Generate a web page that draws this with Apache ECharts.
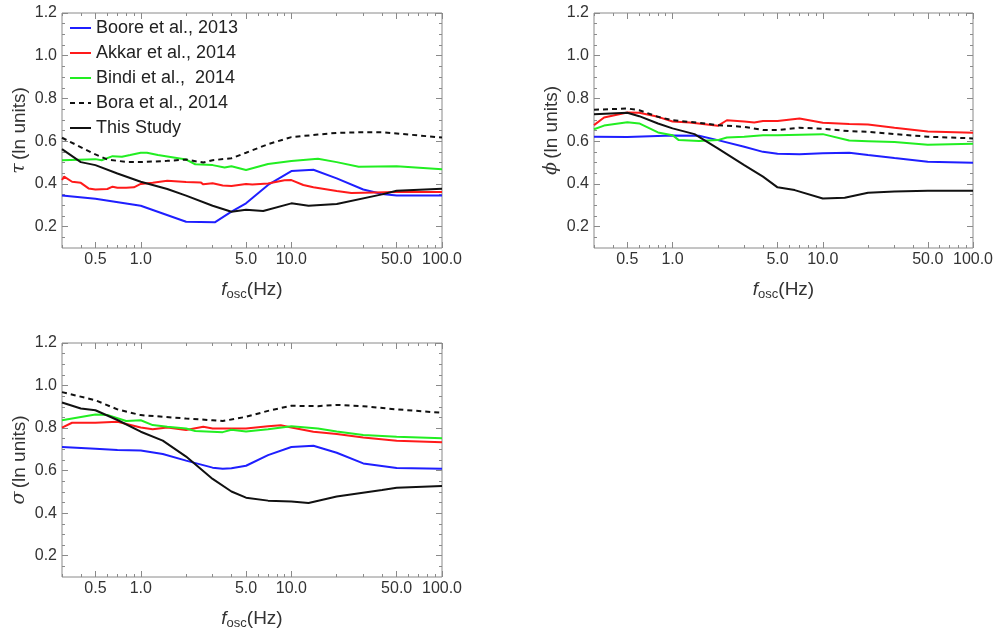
<!DOCTYPE html>
<html><head><meta charset="utf-8">
<script src="https://cdn.jsdelivr.net/npm/echarts@6/dist/echarts.min.js"></script>
<style>html,body{margin:0;padding:0;background:#fff}#c{width:999px;height:634px}</style>
</head><body><div id="c"></div>
<script>
// ---- data (frequency in Hz, values in ln units) ----
const seriesNames = ["Boore et al., 2013", "Akkar et al., 2014", "Bindi et al.,  2014", "Bora et al., 2014", "This Study"];
const xTickLabels = [0.5, 1, 5, 10, 50, 100];
const xMinorTicks = [0.3,0.4,0.6,0.7,0.8,0.9,2,3,4,6,7,8,9,20,30,40,60,70,80,90];
const yTickLabels = [0.2, 0.4, 0.6, 0.8, 1.0, 1.2];

// tau panel
const tauBooreF = [0.3,0.5,1.0,2.0,3.1,4,5,7,10,14,20,30,40,50,100];
const tauBoore  = [0.346,0.33,0.298,0.223,0.22,0.27,0.309,0.395,0.46,0.466,0.426,0.374,0.353,0.346,0.346];
const tauAkkarF = [0.3,0.31,0.35,0.4,0.45,0.5,0.6,0.65,0.7,0.8,0.9,1.0,1.2,1.5,2,2.5,2.6,3,3.5,4,5,5.5,7,9,10,12,14,20,25,30,50,100];
const tauAkkar  = [0.418,0.434,0.41,0.405,0.379,0.374,0.376,0.387,0.382,0.382,0.384,0.4,0.405,0.415,0.409,0.407,0.398,0.403,0.393,0.39,0.4,0.397,0.402,0.417,0.418,0.395,0.384,0.367,0.357,0.359,0.362,0.362];
const tauBindiF = [0.3,0.5,0.55,0.65,0.75,0.85,1.0,1.1,1.3,2.0,2.3,3,3.6,4,5,7,10,15,20,28,50,100];
const tauBindi  = [0.511,0.516,0.511,0.53,0.527,0.535,0.546,0.546,0.535,0.514,0.492,0.488,0.477,0.483,0.465,0.493,0.507,0.518,0.502,0.48,0.483,0.469];
const tauBoraF  = [0.3,0.5,0.6,0.8,1.0,1.5,2.0,2.6,3,4,5,7,10,15,20,30,40,50,100];
const tauBora   = [0.616,0.538,0.514,0.503,0.502,0.508,0.514,0.5,0.511,0.52,0.546,0.586,0.619,0.631,0.639,0.642,0.642,0.636,0.617];
const tauThisF  = [0.3,0.4,0.5,0.7,1.0,1.5,2.0,3,4,5,6.5,10,13,20,40,50,100];
const tauThis   = [0.563,0.502,0.488,0.449,0.41,0.376,0.345,0.298,0.27,0.279,0.273,0.309,0.298,0.306,0.351,0.368,0.377];

// phi panel
const phiBooreF = [0.3,0.5,1.0,1.5,2,3,4,5,7,10,15,20,30,50,100];
const phiBoore  = [0.621,0.62,0.627,0.625,0.605,0.574,0.55,0.541,0.539,0.543,0.546,0.535,0.521,0.504,0.499];
const phiAkkarF = [0.3,0.35,0.5,0.6,0.8,1.0,1.3,2,2.3,3,3.5,4,5,7,10,15,20,30,50,100];
const phiAkkar  = [0.675,0.711,0.734,0.733,0.714,0.692,0.687,0.672,0.698,0.692,0.687,0.694,0.694,0.706,0.686,0.68,0.678,0.663,0.645,0.639];
const phiBindiF = [0.3,0.35,0.5,0.6,0.8,1.0,1.1,1.5,2,2.3,3,4,5,10,15,20,30,50,100];
const phiBindi  = [0.656,0.673,0.689,0.683,0.641,0.628,0.605,0.601,0.605,0.617,0.621,0.628,0.628,0.633,0.603,0.6,0.596,0.583,0.588];
const phiBoraF  = [0.3,0.5,0.6,0.8,1.0,1.5,2,3,4,5,7,10,15,20,30,50,100];
const phiBora   = [0.747,0.753,0.745,0.714,0.698,0.686,0.675,0.667,0.652,0.652,0.663,0.658,0.647,0.644,0.633,0.621,0.613];
const phiThisF  = [0.3,0.5,0.6,0.8,1.0,1.4,2,3,4,5,6.5,10,14,20,30,50,100];
const phiThis   = [0.726,0.733,0.717,0.683,0.66,0.633,0.566,0.488,0.434,0.384,0.371,0.332,0.335,0.359,0.364,0.368,0.368];

// sigma panel
const sigBooreF = [0.3,0.5,0.7,1.0,1.4,2,3,3.5,4,5,7,10,14,20,30,50,100];
const sigBoore  = [0.711,0.703,0.697,0.695,0.678,0.647,0.614,0.609,0.611,0.623,0.673,0.711,0.717,0.684,0.634,0.612,0.609];
const sigAkkarF = [0.3,0.35,0.5,0.7,1.0,1.2,1.5,2,2.6,3,4,5,7,8.5,10,14,20,30,50,100];
const sigAkkar  = [0.802,0.825,0.825,0.83,0.803,0.795,0.803,0.791,0.806,0.798,0.798,0.798,0.809,0.813,0.803,0.783,0.772,0.756,0.741,0.734];
const sigBindiF = [0.3,0.5,0.6,0.8,1.0,1.2,1.5,2,2.3,3.5,4,5,7,10,15,20,30,50,100];
const sigBindi  = [0.837,0.864,0.862,0.833,0.837,0.814,0.806,0.798,0.786,0.781,0.792,0.784,0.795,0.809,0.798,0.784,0.767,0.759,0.752];
const sigBoraF  = [0.3,0.5,0.7,1.0,2,3,3.5,5,7,10,15,20,30,50,100];
const sigBora   = [0.969,0.931,0.888,0.861,0.845,0.837,0.833,0.853,0.881,0.905,0.903,0.909,0.903,0.888,0.872];
const sigThisF  = [0.3,0.4,0.5,0.7,1.0,1.4,2,3,4,5,7,10,13,20,40,50,100];
const sigThis   = [0.92,0.892,0.884,0.838,0.783,0.741,0.666,0.561,0.502,0.473,0.459,0.455,0.448,0.478,0.509,0.52,0.528];

// ---- build ----
const L = Math.log10;
const colors = ['#1f1fff', '#ff1a1a', '#22ee22', '#111', '#111'];
const dashes = ['solid','solid','solid',[5,4],'solid'];
const grids = [
  {left:62, top:13, width:380, height:235},
  {left:594, top:13, width:379, height:235},
  {left:62, top:343, width:380, height:234}
];
const yNames = ['τ', 'ϕ', 'σ'];
const panels = [
  [[tauBooreF,tauBoore],[tauAkkarF,tauAkkar],[tauBindiF,tauBindi],[tauBoraF,tauBora],[tauThisF,tauThis]],
  [[phiBooreF,phiBoore],[phiAkkarF,phiAkkar],[phiBindiF,phiBindi],[phiBoraF,phiBora],[phiThisF,phiThis]],
  [[sigBooreF,sigBoore],[sigAkkarF,sigAkkar],[sigBindiF,sigBindi],[sigBoraF,sigBora],[sigThisF,sigThis]]
];
const txt = '#333', frame = '#8a8a8a';
const yMinor = [];
for (let v = 0.15; v < 1.2; v += 0.05) { const r = Math.round(v*100)/100; if (Math.round(r*100) % 20 !== 0) yMinor.push(r); }
const xAxis = [], yAxis = [], series = [];
const noLine = {show:false, onZero:false};
grids.forEach((g, gi) => {
  const xBase = {type:'value', gridIndex:gi, min:L(0.3), max:2, splitLine:{show:false}, axisLine:noLine};
  const yBase = {type:'value', gridIndex:gi, min:0.1, max:1.2, splitLine:{show:false}, axisLine:noLine};
  const xi = xAxis.length, yi = yAxis.length;
  xAxis.push(Object.assign({}, xBase, {position:'bottom',
    name:'{f|f}{s|osc}{n|(Hz)}', nameLocation:'middle', nameGap:30,
    nameTextStyle:{rich:{f:{fontSize:19,fontStyle:'italic',color:txt,fontFamily:'Liberation Sans'},s:{fontSize:13,color:txt,fontFamily:'Liberation Sans',padding:[10,0,0,0]},n:{fontSize:19,color:txt,fontFamily:'Liberation Sans'}}},
    axisTick:{show:true,inside:true,length:6,lineStyle:{color:frame},customValues:xTickLabels.map(L)},
    axisLabel:{show:true,margin:4,color:txt,fontSize:16,fontFamily:'Liberation Sans',customValues:xTickLabels.map(L),formatter:v=>Math.pow(10,v).toFixed(1)}}));
  xAxis.push(Object.assign({}, xBase, {position:'bottom', axisLabel:{show:false},
    axisTick:{show:true,inside:true,length:3,lineStyle:{color:frame},customValues:xMinorTicks.map(L)}}));
  xAxis.push(Object.assign({}, xBase, {position:'top', axisLabel:{show:false},
    axisTick:{show:true,inside:true,length:6,lineStyle:{color:frame},customValues:xTickLabels.map(L)}}));
  xAxis.push(Object.assign({}, xBase, {position:'top', axisLabel:{show:false},
    axisTick:{show:true,inside:true,length:3,lineStyle:{color:frame},customValues:xMinorTicks.map(L)}}));
  yAxis.push(Object.assign({}, yBase, {position:'left',
    name:'{g|'+yNames[gi]+'} {n|(ln units)}', nameLocation:'middle', nameGap:33, nameRotate:90,
    nameTextStyle:{rich:{g:{fontSize:19,fontStyle:'italic',color:txt,fontFamily:'DejaVu Serif'},n:{fontSize:19,color:txt,fontFamily:'Liberation Sans'}}},
    axisTick:{show:true,inside:true,length:6,lineStyle:{color:frame},customValues:yTickLabels},
    axisLabel:{show:true,margin:5,color:txt,fontSize:16,fontFamily:'Liberation Sans',customValues:yTickLabels,formatter:v=>v.toFixed(1)}}));
  yAxis.push(Object.assign({}, yBase, {position:'left', axisLabel:{show:false},
    axisTick:{show:true,inside:true,length:3,lineStyle:{color:frame},customValues:yMinor}}));
  yAxis.push(Object.assign({}, yBase, {position:'right', axisLabel:{show:false},
    axisTick:{show:true,inside:true,length:6,lineStyle:{color:frame},customValues:yTickLabels}}));
  yAxis.push(Object.assign({}, yBase, {position:'right', axisLabel:{show:false},
    axisTick:{show:true,inside:true,length:3,lineStyle:{color:frame},customValues:yMinor}}));
  panels[gi].forEach((p, si) => {
    series.push({
      type:'line', name:seriesNames[si], xAxisIndex:xi, yAxisIndex:yi,
      data:p[0].map((f,k)=>[L(f), p[1][k]]),
      symbol:'none', smooth:false, silent:true, animation:false,
      z: si===4 ? 5 : 3,
      lineStyle:{color:colors[si], width:2, type:dashes[si]},
      itemStyle:{color:colors[si]}
    });
  });
});
const chart = echarts.init(document.getElementById('c'), null, {renderer:'canvas'});
chart.setOption({
  animation:false,
  grid: grids.map(g => Object.assign({show:true, borderColor:frame, borderWidth:1, backgroundColor:'transparent'}, g)),
  xAxis, yAxis, series,
  legend:{
    data:seriesNames, orient:'vertical', left:64, top:14,
    itemWidth:21, itemHeight:12, itemGap:7,
    itemStyle:{opacity:0},
    textStyle:{fontSize:18, color:'#222', fontFamily:'Liberation Sans', lineHeight:18},
    backgroundColor:'transparent', selectedMode:false
  }
});
</script></body></html>
